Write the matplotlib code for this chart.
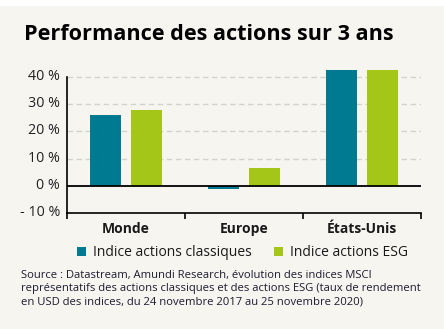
import matplotlib.pyplot as plt
from matplotlib import patches, transforms
import numpy as np

categories = ["Monde", "Europe", "États-Unis"]
classiques = [26.0, -1.0, 42.5]
esg = [27.8, 6.6, 42.5]
y_ticks = [-10, 0, 10, 20, 30, 40]
y_labels = ["- 10 %", "0 %", "10 %", "20 %", "30 %", "40 %"]
series_names = ["Indice actions classiques", "Indice actions ESG"]

bg = "#f7f5f0"
teal = "#007a91"
green = "#a3c619"
ink = "#1c1c30"

plt.rcParams["font.family"] = ["Open Sans", "DejaVu Sans"]

W, H = 444, 329
fig = plt.figure(figsize=(W / 100, H / 100), dpi=100, facecolor=bg)
# white strip at the very top
fig.patches.append(patches.Rectangle((0, 1 - 6 / H), 1, 6 / H, transform=fig.transFigure,
                                     facecolor="white", edgecolor="none", zorder=-1))

ax_left, ax_right = 67 / W, 421 / W
ax_bottom, ax_top = 1 - 213.3 / H, 1 - 68.6 / H
ax = fig.add_axes([ax_left, ax_bottom, ax_right - ax_left, ax_top - ax_bottom])
ax.set_facecolor(bg)

x = np.arange(len(categories)) + 0.5
w = 0.27
off = 0.174
ax.bar(x - off, classiques, w, color=teal, zorder=3)
ax.bar(x + off, esg, w, color=green, zorder=3)

ax.set_xlim(0, len(categories))
ax.set_ylim(-10, 43)

for v in [10, 20, 30, 40]:
    ax.axhline(v, color="#d2d2d0", lw=1, ls=(0, (4, 2.5)), zorder=1)
ax.axhline(0, color="black", lw=1.3, zorder=4)

for s in ["top", "right"]:
    ax.spines[s].set_visible(False)
ax.spines["left"].set_bounds(-10, 40)
ax.spines["left"].set_linewidth(1.2)
ax.spines["bottom"].set_linewidth(1.2)

ax.set_yticks(y_ticks)
ax.set_yticklabels(y_labels, fontsize=10.3, color="#222222")
ax.tick_params(axis="y", length=0, pad=5)
shift = transforms.ScaledTranslation(0, 2.5 / 100, fig.dpi_scale_trans)
for lab in ax.get_yticklabels():
    lab.set_transform(lab.get_transform() + shift)

ax.set_xticks(np.arange(len(categories) + 1))
ax.set_xticklabels([])
ax.tick_params(axis="x", which="major", length=4.5, width=1.2, direction="out")
ax.set_xticks(x, minor=True)
ax.set_xticklabels(categories, minor=True, fontsize=10, fontweight="bold", color="#1a1a1a")
ax.tick_params(axis="x", which="minor", length=0, pad=6)

fig.text(24 / W, 1 - 40 / H, "Performance des actions sur 3 ans", fontsize=15.6,
         fontweight="bold", color="black", va="baseline", ha="left")

handles = [patches.Patch(facecolor=teal), patches.Patch(facecolor=green)]
fig.legend(handles, series_names, loc="center left", bbox_to_anchor=(77 / W, 1 - 253 / H),
           frameon=False, ncol=2, fontsize=10, handlelength=0.65, handleheight=0.65,
           handletextpad=0.5, columnspacing=1.6, borderpad=0, borderaxespad=0,
           labelcolor="#1a1a1a")

source = ("Source : Datastream, Amundi Research, évolution des indices MSCI\n"
          "représentatifs des actions classiques et des actions ESG (taux de rendement\n"
          "en USD des indices, du 24 novembre 2017 au 25 novembre 2020)")
fig.text(21 / W, 1 - 270 / H, source, fontsize=8.1, color=ink, va="top", ha="left",
         linespacing=1.28)

fig.savefig("out.png", dpi=100, facecolor=bg)
